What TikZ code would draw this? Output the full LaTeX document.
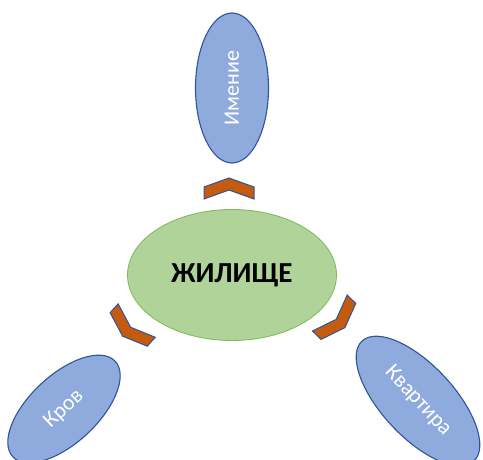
\documentclass[tikz,border=0pt]{standalone}
\usepackage{fontspec}
\setmainfont{Carlito}
\usetikzlibrary{shapes.geometric}

\definecolor{plava}{HTML}{8FAADC}
\definecolor{plavarub}{HTML}{2F5597}
\definecolor{zelena}{HTML}{AFD398}
\definecolor{zelenarub}{HTML}{7DB85A}
\definecolor{narandzasta}{HTML}{C55A11}

\begin{document}
\begin{tikzpicture}[x=1pt,y=1pt,
    pojam/.style={ellipse, draw=plavarub, fill=plava, line width=1.1pt, inner sep=0pt,
        text=white, font=\fontsize{22}{26}\selectfont},
    centar/.style={ellipse, draw=zelenarub, fill=zelena, line width=0.8pt, inner sep=0pt,
        minimum width=209, minimum height=131, font=\fontsize{29}{34}\selectfont\bfseries},
    strelica/.style={draw=plavarub, fill=narandzasta, line width=1pt, line join=miter}]
    \useasboundingbox (0,0) rectangle (483,459);

    \node[centar] (zilisce) at (232,184) {ЖИЛИЩЕ};

    \node[pojam, rotate=90, minimum width=150, minimum height=73] (imenie) at (232,371) {Имение};
    \node[pojam, rotate=43, minimum width=140, minimum height=68] (krov) at (64,50) {Кров};
    \node[pojam, rotate=-47, minimum width=164, minimum height=72] (kvartira) at (418,58) {Квартира};
    %\node[opcije] (ime) at (x,y) {sadrzaj};

    \draw[strelica, shift={(229,270)}] (0,11) -- (-25,2) -- (-25,-10) -- (0,-1) -- (25,-10) -- (25,2) -- cycle;
    \draw[strelica, shift={(130,131)}, rotate=138] (0,11) -- (-25,2) -- (-25,-10) -- (0,-1) -- (25,-10) -- (25,2) -- cycle;
    \draw[strelica, shift={(337,139)}, rotate=-134] (0,11) -- (-25,2) -- (-25,-10) -- (0,-1) -- (25,-10) -- (25,2) -- cycle;
\end{tikzpicture}
\end{document}
